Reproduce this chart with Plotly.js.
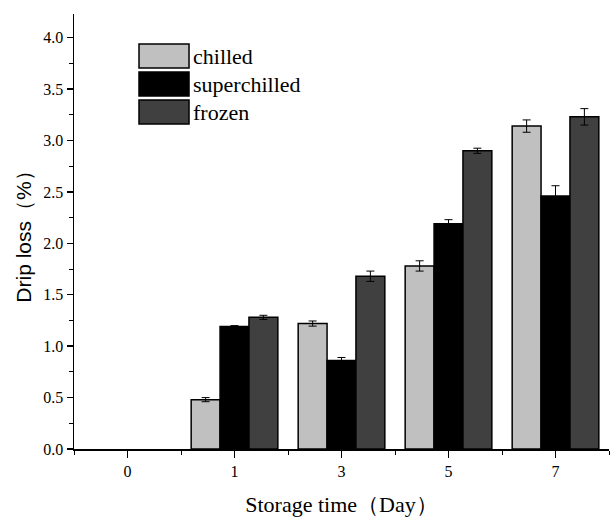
<!DOCTYPE html>
<html>
<head>
<meta charset="utf-8">
<script src="https://cdn.plot.ly/plotly-3.0.1.min.js"></script>
<style>html,body{margin:0;padding:0;background:#fff;}#chart{width:612px;height:518px;}</style>
</head>
<body>
<div id="chart"></div>
<script>
const categories = ["0", "1", "3", "5", "7"];
const seriesNames = ["chilled", "superchilled", "frozen"];
const chilled = [null, 0.48, 1.22, 1.78, 3.14];
const superchilled = [null, 1.19, 0.86, 2.19, 2.46];
const frozen = [null, 1.28, 1.68, 2.90, 3.23];
const chilledErr = [0, 0.02, 0.025, 0.05, 0.06];
const superchilledErr = [0, 0.01, 0.03, 0.04, 0.10];
const frozenErr = [0, 0.02, 0.05, 0.025, 0.08];
const colors = ["#c0c0c0", "#000000", "#404040"];

const xIdx = categories.map((c, i) => i);
const values = [chilled, superchilled, frozen];
const errs = [chilledErr, superchilledErr, frozenErr];
const serif = "Liberation Serif, Times New Roman, serif";
const sans = "Liberation Sans, Arial, sans-serif";

const traces = seriesNames.map((name, k) => ({
  type: "bar",
  name: name,
  x: xIdx,
  y: values[k],
  marker: {color: colors[k], line: {color: "#000", width: 1.5}},
  error_y: {type: "data", array: errs[k], visible: true, color: "#000", thickness: 1, width: 4},
  showlegend: false,
  hoverinfo: "skip"
}));

// custom legend with large swatches (paper coordinates)
const shapes = [];
const annotations = [];
const lx0 = 0.1215, lx1 = 0.215, ly0 = 0.931, lh = 0.0552, lstep = 0.0644;
seriesNames.forEach((name, k) => {
  const top = ly0 - k * lstep;
  shapes.push({type: "rect", xref: "paper", yref: "paper", x0: lx0, x1: lx1, y0: top - lh, y1: top,
    fillcolor: colors[k], line: {color: "#000", width: 1.5}});
  annotations.push({xref: "paper", yref: "paper", x: lx1 + 0.004, y: top - lh / 2, xanchor: "left", yanchor: "middle",
    text: name, showarrow: false, font: {family: serif, size: 22, color: "#000"}});
});

const layout = {
  width: 612, height: 518,
  margin: {l: 74, r: 3, t: 14, b: 69},
  paper_bgcolor: "#fff", plot_bgcolor: "#fff",
  barmode: "group", bargap: 0.19, bargroupgap: 0,
  font: {family: serif, color: "#000"},
  xaxis: {
    range: [-0.5, 4.5], tickvals: xIdx, ticktext: categories,
    showgrid: false, zeroline: false, showline: true, linecolor: "#000", linewidth: 1.5,
    ticks: "outside", ticklen: 7, tickwidth: 1.5, tickcolor: "#000",
    minor: {dtick: 0.5, tick0: 0.5, ticks: "outside", ticklen: 4, tickwidth: 1, tickcolor: "#000"},
    tickfont: {family: serif, size: 16, color: "#000"},
    title: {text: "Storage time（Day）", font: {family: serif, size: 22, color: "#000"}, standoff: 18}
  },
  yaxis: {
    range: [0, 4.23], tickvals: [0, 0.5, 1, 1.5, 2, 2.5, 3, 3.5, 4], tickformat: ".1f",
    showgrid: false, zeroline: false, showline: true, linecolor: "#000", linewidth: 1.5,
    ticks: "outside", ticklen: 6, tickwidth: 1.5, tickcolor: "#000",
    minor: {dtick: 0.25, tick0: 0, ticks: "outside", ticklen: 4, tickwidth: 1, tickcolor: "#000"},
    tickfont: {family: serif, size: 16, color: "#000"},
    title: {text: "Drip loss（%）", font: {family: sans, size: 21, color: "#000"}, standoff: 6}
  },
  shapes: shapes,
  annotations: annotations
};

Plotly.newPlot("chart", traces, layout, {displayModeBar: false, staticPlot: true});
</script>
</body>
</html>
